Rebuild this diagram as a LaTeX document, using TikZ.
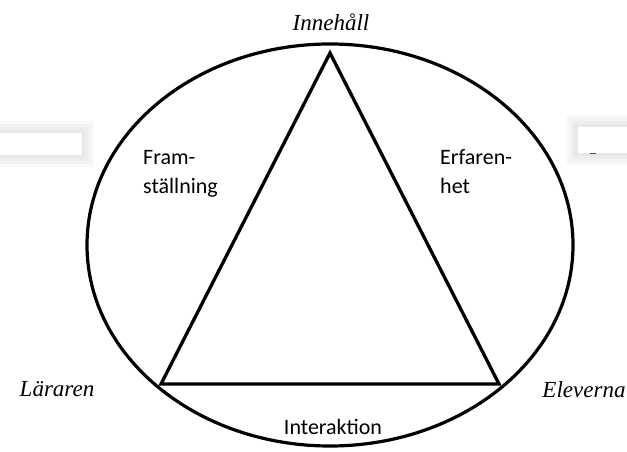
\documentclass[tikz,border=0pt]{standalone}
\usepackage{fontspec}
\setmainfont{Liberation Serif}
\newfontfamily\labelsans{Carlito}
\begin{document}
\begin{tikzpicture}[
                x=1pt,y=-1pt,
                didRing/.style={draw=black,line width=3.2pt},
                didEdge/.style={draw=black,line width=3.3pt,line join=miter},
                didCorner/.style={font=\itshape\fontsize{23}{26}\selectfont,inner sep=0pt},
                didSide/.style={font=\labelsans\fontsize{22}{29}\selectfont,
                                align=left,inner sep=0pt,anchor=north west},
                didSmudge/.style={fill=black,draw=none,fill opacity=0.025}]
                \useasboundingbox (0,0) rectangle (627,452);
                % faint screenshot marks at the sides
                \foreach \d in {0,3,6,9,12}{
                    \fill[didSmudge] (0,133-\d) rectangle (82+\d,155+\d);
                    \fill[didSmudge] (578-\d,127-\d) rectangle (627,153+\d);
                }
                \fill[white] (0,133) rectangle (82,155);
                \fill[white] (578,127) rectangle (627,153);
                \draw[black!70,line width=1pt] (590,153) -- (596,153);
                % ring and triangle
                \coordinate (mid) at (330,245);
                \draw[didRing] (mid) ellipse [x radius=243,y radius=201];
                \coordinate (apex) at (330,53);
                \coordinate (lraren) at (161,384);
                \coordinate (elever) at (499,384);
                \draw[didEdge] (apex) -- (lraren) -- (elever) -- cycle;
                \node[didCorner] (innehall) at (331,22) {Innehåll};
                \node[didCorner] (lararen) at (57,389) {Läraren};
                \node[didCorner] (eleverna) at (584,390) {Eleverna};
                \node[didSide] (framst) at (143,150) {Fram-\\ställning};
                \node[didSide] (erfar) at (440,149) {Erfaren-\\het};
                \node[didSide,anchor=center] (interak) at (333,427) {Interaktion};
            \end{tikzpicture}
\end{document}
